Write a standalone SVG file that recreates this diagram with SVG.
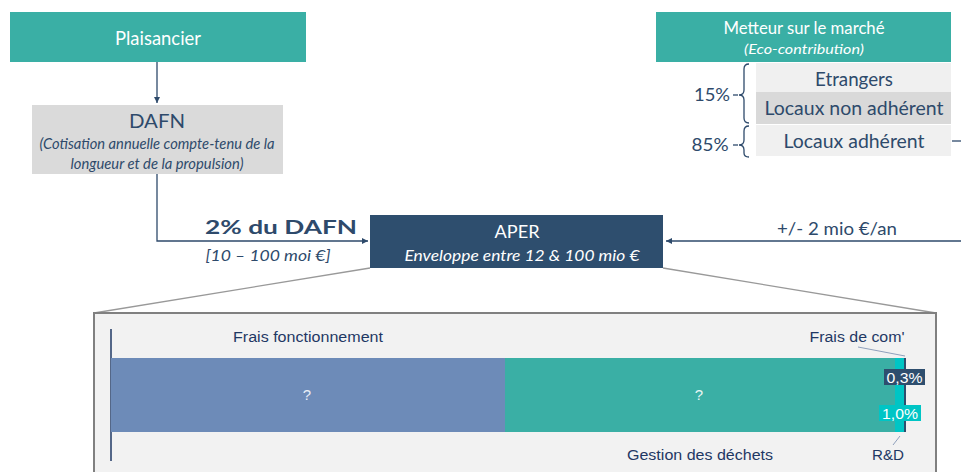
<svg xmlns="http://www.w3.org/2000/svg" width="961" height="472" viewBox="0 0 961 472">
<style>
.g{font-family:Lato,"Open Sans","Liberation Sans",sans-serif}
.a{font-family:"Liberation Sans",Arial,sans-serif}
.nav{fill:#2E4A6B}
.w{fill:#ffffff}
.ln{stroke:#2E4A6B;stroke-width:1.3;fill:none}
.dk{fill:#1F3864}
</style>
<defs>
<marker id="ar" markerWidth="8" markerHeight="8" refX="6" refY="4" orient="auto" markerUnits="userSpaceOnUse">
<path d="M0,1 L6,4 L0,7 Z" fill="#2E4A6B"/>
</marker>
</defs>
<rect width="961" height="472" fill="#ffffff"/>

<g id="connectors">
<line x1="157" y1="62" x2="157" y2="103" class="ln" marker-end="url(#ar)"/>
<polyline points="157,174 157,241 368,241" class="ln" marker-end="url(#ar)"/>
<line x1="961" y1="241" x2="666" y2="241" class="ln" marker-end="url(#ar)"/>
<line x1="952" y1="141" x2="961" y2="141" class="ln"/>
<line x1="370" y1="268" x2="94" y2="313" stroke="#999" stroke-width="1.3"/>
<line x1="663" y1="268" x2="936" y2="313" stroke="#999" stroke-width="1.3"/>
</g>

<g id="plaisancier">
<rect x="10" y="12" width="296" height="50" fill="#3AAFA5"/>
<text x="158" y="45" text-anchor="middle" class="g w" font-size="19" textLength="86" lengthAdjust="spacingAndGlyphs">Plaisancier</text>
</g>

<g id="dafn">
<rect x="32" y="105" width="251" height="69" fill="#DADADA"/>
<text x="157" y="128" text-anchor="middle" class="g nav" font-size="20" textLength="56" lengthAdjust="spacingAndGlyphs">DAFN</text>
<text x="157" y="149" text-anchor="middle" class="g nav" font-size="14.5" font-style="italic" textLength="235" lengthAdjust="spacingAndGlyphs">(Cotisation annuelle compte-tenu de la</text>
<text x="157" y="169" text-anchor="middle" class="g nav" font-size="14.5" font-style="italic" textLength="173" lengthAdjust="spacingAndGlyphs">longueur et de la propulsion)</text>
</g>

<g id="label-dafn">
<text x="281" y="234" text-anchor="middle" class="g nav" font-size="19" font-weight="bold" textLength="152" lengthAdjust="spacingAndGlyphs">2% du DAFN</text>
<text x="268" y="261" text-anchor="middle" class="g nav" font-size="16" font-style="italic" textLength="125" lengthAdjust="spacingAndGlyphs">[10 – 100 moi €]</text>
</g>

<g id="aper">
<rect x="370" y="215" width="293" height="53" fill="#2E4E6E"/>
<text x="517" y="238" text-anchor="middle" class="g w" font-size="17" textLength="45" lengthAdjust="spacingAndGlyphs">APER</text>
<text x="522" y="261" text-anchor="middle" class="g w" font-size="15" font-style="italic" textLength="235" lengthAdjust="spacingAndGlyphs">Enveloppe entre 12 &amp; 100 mio €</text>
</g>

<g id="label-eco">
<text x="837" y="235" text-anchor="middle" class="g nav" font-size="18" textLength="120" lengthAdjust="spacingAndGlyphs">+/- 2 mio €/an</text>
</g>

<g id="metteur">
<rect x="656" y="12" width="295" height="50" fill="#3AAFA5"/>
<text x="804" y="34" text-anchor="middle" class="g w" font-size="17" textLength="161" lengthAdjust="spacingAndGlyphs">Metteur sur le marché</text>
<text x="804" y="54" text-anchor="middle" class="g w" font-size="14" font-style="italic" textLength="120" lengthAdjust="spacingAndGlyphs">(Eco-contribution)</text>
</g>

<g id="etrangers">
<rect x="756" y="63" width="195" height="29" fill="#F0F0F0"/>
<text x="854" y="86" text-anchor="middle" class="g nav" font-size="18.5" textLength="78" lengthAdjust="spacingAndGlyphs">Etrangers</text>
</g>
<g id="locaux-non">
<rect x="756" y="92" width="195" height="32" fill="#D9D9D9"/>
<text x="854" y="115" text-anchor="middle" class="g nav" font-size="18.5" textLength="179" lengthAdjust="spacingAndGlyphs">Locaux non adhérent</text>
</g>
<g id="locaux-adh">
<rect x="756" y="125" width="195" height="31" fill="#F0F0F0"/>
<text x="854" y="148" text-anchor="middle" class="g nav" font-size="18.5" textLength="141" lengthAdjust="spacingAndGlyphs">Locaux adhérent</text>
</g>

<g id="brace-15">
<path d="M749,64 Q744,64 744,69 L744,90 Q744,95 739,95 Q744,95 744,100 L744,118 Q744,123 749,123" class="ln"/>
<line x1="733" y1="95" x2="738" y2="95" class="ln"/>
<text x="712" y="101" text-anchor="middle" class="g nav" font-size="18" textLength="36" lengthAdjust="spacingAndGlyphs">15%</text>
</g>
<g id="brace-85">
<path d="M749,126 Q744,126 744,131 L744,140 Q744,145 739,145 Q744,145 744,150 L744,153 Q744,157 749,157" class="ln"/>
<line x1="733" y1="145" x2="738" y2="145" class="ln"/>
<text x="710" y="151" text-anchor="middle" class="g nav" font-size="18" textLength="37" lengthAdjust="spacingAndGlyphs">85%</text>
</g>

<g id="breakdown">
<rect x="94" y="313" width="842" height="165" fill="#F2F2F2" stroke="#808080" stroke-width="2"/>
<line x1="111" y1="329" x2="111" y2="461" stroke="#1F3864" stroke-width="1.5"/>
<rect x="111" y="358" width="394" height="74" fill="#6D8BB8"/>
<rect x="505" y="358" width="390" height="74" fill="#3AAFA5"/>
<rect x="895" y="358" width="9" height="74" fill="#00C5C5"/>
<line x1="905" y1="358" x2="905" y2="432" stroke="#2E4E6E" stroke-width="2"/>
<text x="307" y="400" text-anchor="middle" class="a" font-size="15" fill="#E8EEF6">?</text>
<text x="699" y="400" text-anchor="middle" class="a" font-size="15" fill="#E8F6F4">?</text>
<text x="308" y="342" text-anchor="middle" class="a dk" font-size="15.5" textLength="150" lengthAdjust="spacingAndGlyphs">Frais fonctionnement</text>
<text x="857" y="342" text-anchor="middle" class="a dk" font-size="15.5" textLength="95" lengthAdjust="spacingAndGlyphs">Frais de com'</text>
<line x1="858" y1="347" x2="905" y2="356" stroke="#8FA0BC" stroke-width="1"/>
<rect x="884" y="369" width="41" height="16" fill="#2E4E6E"/>
<text x="904.5" y="383" text-anchor="middle" class="a" font-size="15" fill="#ffffff" textLength="36" lengthAdjust="spacingAndGlyphs">0,3%</text>
<rect x="879" y="405" width="42" height="16" fill="#00C5C5"/>
<text x="900" y="419" text-anchor="middle" class="a" font-size="15" fill="#ffffff" textLength="36" lengthAdjust="spacingAndGlyphs">1,0%</text>
<line x1="900" y1="436" x2="893" y2="445" stroke="#8FA0BC" stroke-width="1"/>
<text x="700" y="460" text-anchor="middle" class="a dk" font-size="15.5" textLength="146" lengthAdjust="spacingAndGlyphs">Gestion des déchets</text>
<text x="888" y="460" text-anchor="middle" class="a dk" font-size="15.5" textLength="32" lengthAdjust="spacingAndGlyphs">R&amp;D</text>
</g>
</svg>
